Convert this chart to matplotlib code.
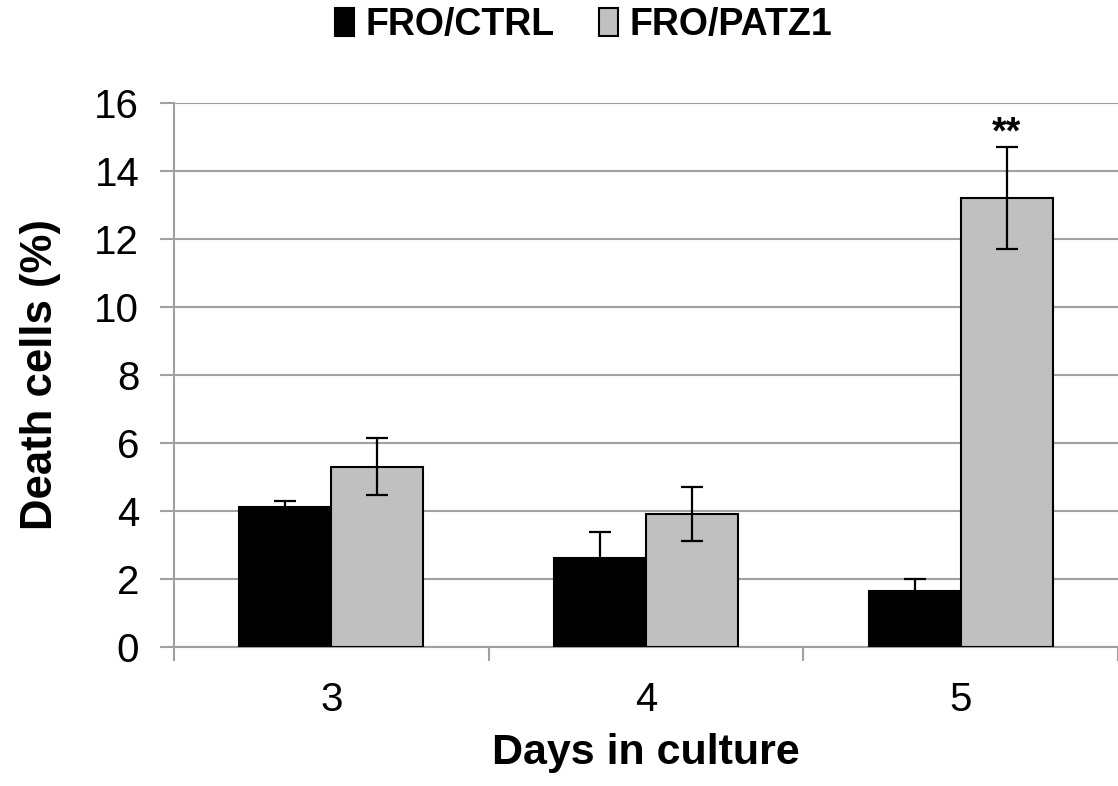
import numpy as np
import matplotlib
matplotlib.use("Agg")
import matplotlib.pyplot as plt

plt.rcParams['font.family'] = ['Liberation Sans', 'DejaVu Sans']

# --- data ---
days = ["3", "4", "5"]
ctrl = [4.1, 2.6, 1.65]
ctrl_err = [0.2, 0.77, 0.35]
patz1 = [5.3, 3.9, 13.2]
patz1_err = [0.85, 0.79, 1.5]
series_names = ["FRO/CTRL", "FRO/PATZ1"]

x = np.arange(len(days))
w = 0.292
grid_gray = "#a0a0a0"

fig = plt.figure(figsize=(11.18, 7.86), dpi=100)
ax = fig.add_axes([0.1556, 0.1773, 0.8444, 0.6917])

ax.bar(x - w/2, ctrl, w, color="black", edgecolor="black", linewidth=1.5,
       label=series_names[0], zorder=3)
ax.bar(x + w/2, patz1, w, color="#c0c0c0", edgecolor="black", linewidth=1.5,
       label=series_names[1], zorder=3)
ax.errorbar(x - w/2, ctrl, yerr=ctrl_err, fmt="none", ecolor="black",
            elinewidth=1.6, capsize=8, capthick=1.6, zorder=4)
ax.errorbar(x + w/2, patz1, yerr=patz1_err, fmt="none", ecolor="black",
            elinewidth=1.6, capsize=8, capthick=1.6, zorder=4)

# significance mark
ax.text(x[2] + w/2, patz1[2] + patz1_err[2] + 0.12, "**", ha="center", va="baseline",
        fontsize=27, fontweight="bold")

ax.set_xlim(-0.5, 2.5)
ax.set_ylim(0, 16)
ax.set_yticks(np.arange(0, 17, 2))
ax.yaxis.grid(True, color=grid_gray, linewidth=1.5, zorder=0)
ax.set_axisbelow(True)

# category boundaries as tick marks, labels at centres
ax.set_xticks([-0.5, 0.5, 1.5, 2.5])
ax.set_xticklabels([])
ax.set_xticks(x, minor=True)
ax.set_xticklabels(days, minor=True)
ax.tick_params(axis="x", which="major", length=10, width=1.5, color=grid_gray, direction="out")
ax.tick_params(axis="x", which="minor", length=0, pad=25, labelsize=29)
ax.tick_params(axis="y", length=10, width=1.5, color=grid_gray, labelsize=29, pad=15)

for s in ["top", "right"]:
    ax.spines[s].set_visible(False)
for s in ["left", "bottom"]:
    ax.spines[s].set_color(grid_gray)
    ax.spines[s].set_linewidth(1.5)

ax.set_xlabel("Days in culture", fontsize=31, fontweight="bold", labelpad=10)
ax.set_ylabel("Death cells (%)", fontsize=31.5, fontweight="bold", labelpad=24)

fig.legend(loc="center", bbox_to_anchor=(0.522, 0.968), ncol=2, frameon=False,
           prop={"size": 27, "weight": "bold"}, handlelength=0.5, handleheight=0.75,
           handletextpad=0.3, columnspacing=1.2)

fig.savefig("out.png", dpi=100)
